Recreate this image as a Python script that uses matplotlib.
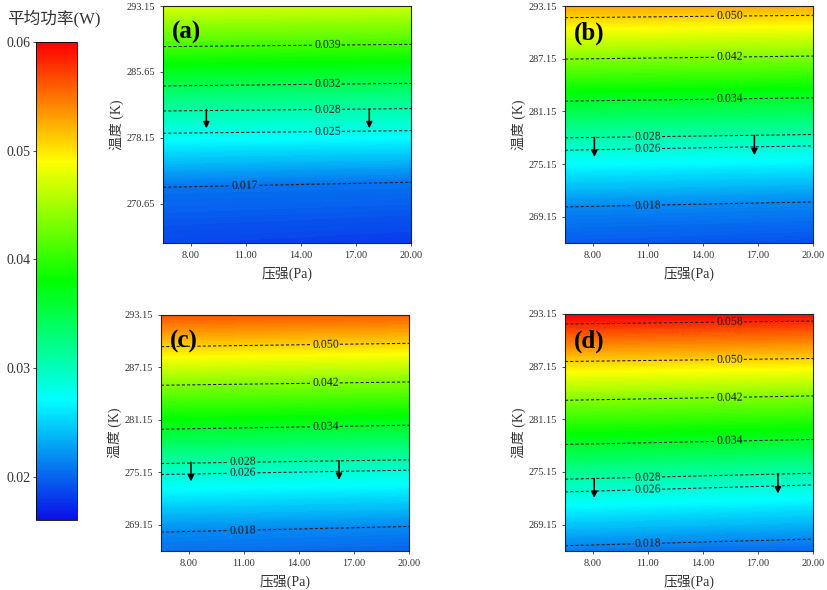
import numpy as np
import matplotlib
matplotlib.use("Agg")
import matplotlib.pyplot as plt
from matplotlib.colors import LinearSegmentedColormap, Normalize
from matplotlib.cm import ScalarMappable

plt.rcParams['font.family'] = ['Liberation Serif', 'Noto Sans CJK SC']

# ---------------- data ----------------
pressure_edges = [6.5, 20.0]            # Pa, left / right edge of each panel
temp_range = [266.15, 293.15]           # K, plotted temperature range
grid_bottom_T = 266.15
grid_top_T = 293.8

# panel (a): contour levels and their temperature at left / right edge
a_levels = [0.017, 0.025, 0.028, 0.032, 0.039, 0.046]
a_T_left = [272.50, 278.65, 281.19, 284.04, 288.52, 293.10]
a_T_right = [273.07, 278.95, 281.46, 284.34, 288.78, 293.45]
a_bottom = [0.0148, 0.0142]
a_top = [0.0470, 0.0465]

# panel (b)
b_levels = [0.018, 0.026, 0.028, 0.034, 0.042, 0.050]
b_T_left = [270.26, 276.72, 278.13, 282.31, 287.10, 291.82]
b_T_right = [270.83, 277.22, 278.51, 282.69, 287.45, 292.09]
b_bottom = [0.0158, 0.0152]
b_top = [0.0530, 0.0525]

# panel (c)
c_levels = [0.018, 0.026, 0.028, 0.034, 0.042, 0.050]
c_T_left = [268.31, 274.90, 276.16, 280.08, 285.11, 289.53]
c_T_right = [268.96, 275.40, 276.58, 280.54, 285.49, 289.91]
c_bottom = [0.0170, 0.0163]
c_top = [0.0570, 0.0564]

# panel (d)
d_levels = [0.018, 0.026, 0.028, 0.034, 0.042, 0.050, 0.058]
d_T_left = [266.75, 272.88, 274.33, 278.29, 283.32, 287.74, 292.01]
d_T_right = [267.51, 273.68, 275.01, 278.86, 283.82, 288.08, 292.35]
d_bottom = [0.0173, 0.0165]
d_top = [0.0614, 0.0608]

# arrows: pressure, start temperature, end temperature
a_arrow_p = [8.86, 17.73]
a_arrow_T = [[281.38, 279.22], [281.38, 279.22]]
b_arrow_p = [8.10, 16.81]
b_arrow_T = [[278.17, 275.96], [278.40, 276.15]]
c_arrow_p = [8.13, 16.19]
c_arrow_T = [[276.31, 274.10], [276.50, 274.29]]
d_arrow_p = [8.09, 18.09]
d_arrow_T = [[274.40, 272.20], [274.98, 272.70]]

panel_names = ['(a)', '(b)', '(c)', '(d)']
x_ticks = [8.0, 11.0, 14.0, 17.0, 20.0]
a_y_ticks = [270.65, 278.15, 285.65, 293.15]
bcd_y_ticks = [269.15, 275.15, 281.15, 287.15, 293.15]
cbar_ticks = [0.02, 0.03, 0.04, 0.05, 0.06]
cbar_range = [0.016, 0.06]
x_label = '压强(Pa)'
y_label = '温度 (K)'
cbar_title = '平均功率(W)'

# labelled levels (0.046 in (a) is drawn but not labelled)
a_labelled = [0.017, 0.025, 0.028, 0.032, 0.039]

# ---------------- layout / style ----------------
W, H = 827, 590
fig = plt.figure(figsize=(W / 100, H / 100), dpi=100)

def px_rect(x0, y0, x1, y1):
    return [x0 / W, 1 - y1 / H, (x1 - x0) / W, (y1 - y0) / H]

ax_rects = [px_rect(163, 6, 411, 243), px_rect(565, 6, 813, 243),
            px_rect(161, 315, 409, 551), px_rect(565, 314, 813, 551)]

cmap = LinearSegmentedColormap.from_list(
    'pw', [(0.0, '#0a10e6'), (0.25, '#00ffff'), (0.5, '#00ff00'),
           (0.75, '#ffff00'), (1.0, '#ff0000')])
cbar_norm = Normalize(vmin=cbar_range[0], vmax=cbar_range[1])
# the panels' shading in the reference sits slightly lighter at the low end
panel_norm = Normalize(vmin=0.012, vmax=cbar_range[1])
fill_levels = np.linspace(0.012, cbar_range[1], 193)

tick_color = '#333333'

panels = [
    (a_levels, a_T_left, a_T_right, a_bottom, a_top, a_labelled, a_y_ticks,
     a_arrow_p, a_arrow_T, {0.017: 10.97}),
    (b_levels, b_T_left, b_T_right, b_bottom, b_top, b_levels, bcd_y_ticks,
     b_arrow_p, b_arrow_T, {0.018: 11.0, 0.026: 11.0, 0.028: 11.0}),
    (c_levels, c_T_left, c_T_right, c_bottom, c_top, c_levels, bcd_y_ticks,
     c_arrow_p, c_arrow_T, {0.018: 10.97, 0.026: 10.97, 0.028: 10.97}),
    (d_levels, d_T_left, d_T_right, d_bottom, d_top, d_levels, bcd_y_ticks,
     d_arrow_p, d_arrow_T, {0.018: 11.0, 0.026: 11.0, 0.028: 11.0}),
]

for i, (levels, tl, tr, zb, zt, labelled, yt, arr_p, arr_T, low_x) in enumerate(panels):
    ax = fig.add_axes(ax_rects[i])
    nrow = len(levels) + 2
    X = np.array([pressure_edges] * nrow)
    Y = np.array([[grid_bottom_T, grid_bottom_T]] + [[l, r] for l, r in zip(tl, tr)]
                 + [[grid_top_T, grid_top_T]])
    Z = np.array([zb] + [[v, v] for v in levels] + [zt])

    ax.contourf(X, Y, Z, levels=fill_levels, cmap=cmap, norm=panel_norm,
                extend='both', antialiased=False)
    cs = ax.contour(X, Y, Z, levels=levels, colors='#1a1a1a',
                    linewidths=0.75, linestyles='dashed')
    cs.set_linestyle([(0, (3.0, 2.0))])
    manual = []
    for lev, l, r in zip(levels, tl, tr):
        if lev not in labelled:
            continue
        xp = low_x.get(lev, 15.45)
        yp = l + (xp - pressure_edges[0]) / (pressure_edges[1] - pressure_edges[0]) * (r - l)
        manual.append((xp, yp))
    ax.clabel(cs, levels=labelled, manual=manual, fmt='%.3f', fontsize=8.5,
              colors='#1a1a1a', inline=True, inline_spacing=1)

    for p, (t0, t1) in zip(arr_p, arr_T):
        ax.annotate('', xy=(p, t1), xytext=(p, t0),
                    arrowprops=dict(arrowstyle='-|>', color='black', lw=1.1,
                                    mutation_scale=9, shrinkA=0, shrinkB=0))

    ax.set_xlim(pressure_edges)
    ax.set_ylim(temp_range)
    ax.set_xticks(x_ticks)
    ax.set_xticklabels(['%.2f' % v for v in x_ticks])
    ax.set_yticks(yt)
    ax.set_yticklabels(['%.2f' % v for v in yt])
    ax.tick_params(direction='out', length=2.5, width=0.6, labelsize=7.5,
                   colors=tick_color, pad=3)
    for s in ax.spines.values():
        s.set_linewidth(0.8)
        s.set_color('#222222')
    ax.set_xlabel(x_label, fontsize=10, color=tick_color, labelpad=5)
    ax.set_ylabel(y_label, fontsize=10, color=tick_color, labelpad=2)
    ax.text(0.035, 0.935, panel_names[i], transform=ax.transAxes, ha='left',
            va='top', fontsize=18, fontweight='bold', color='black')

# colorbar
cax = fig.add_axes(px_rect(36, 42, 77, 520))
cb = fig.colorbar(ScalarMappable(norm=cbar_norm, cmap=cmap), cax=cax)
cb.set_ticks(cbar_ticks)
cb.set_ticklabels(['%.2f' % v for v in cbar_ticks])
cax.yaxis.set_ticks_position('left')
cax.yaxis.set_label_position('left')
cax.tick_params(direction='out', length=2, width=0.6, labelsize=10,
                colors=tick_color, pad=2)
cb.outline.set_linewidth(0.6)
fig.text(54 / W, 1 - 18 / H, cbar_title, ha='center', va='center',
         fontsize=12, color=tick_color)

fig.savefig('out.png', dpi=100)
